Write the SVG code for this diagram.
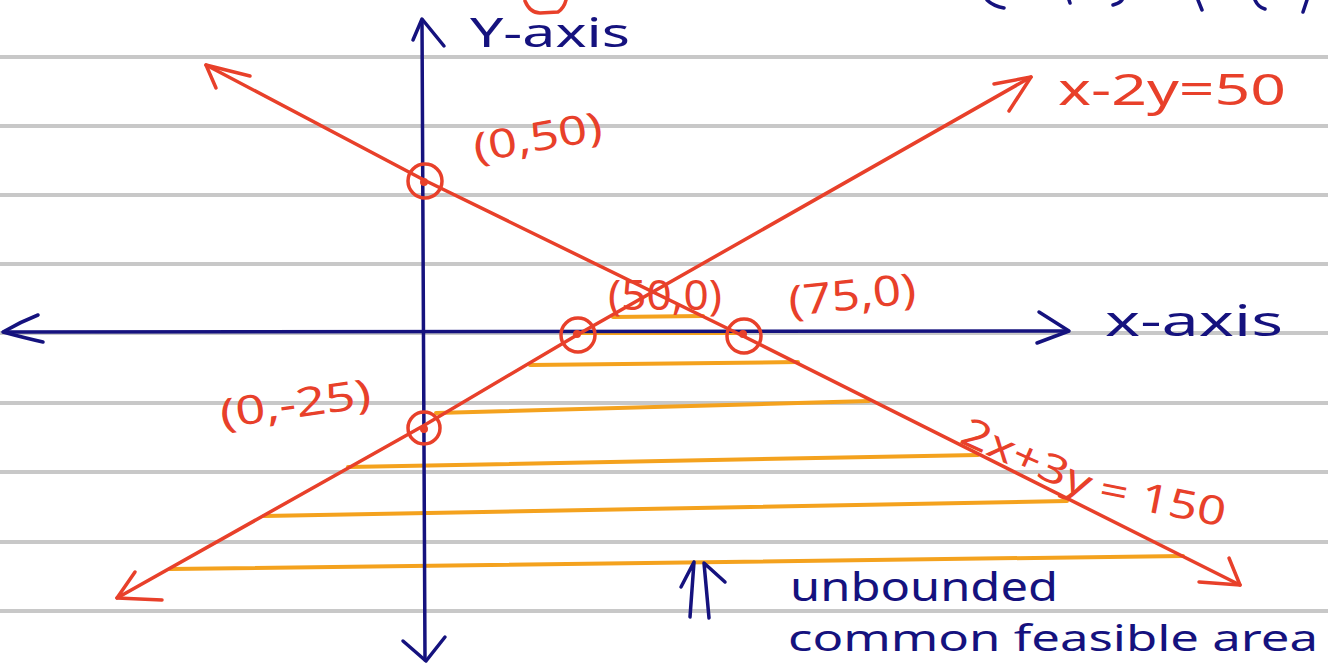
<svg xmlns="http://www.w3.org/2000/svg" width="1328" height="665" viewBox="0 0 1328 665">
<style>
.rule{stroke:#c8c8c8;stroke-width:4;fill:none}
.blue{stroke:#15127e;stroke-width:3.5;fill:none;stroke-linecap:round;stroke-linejoin:round}
.red{stroke:#e8402a;stroke-width:3.5;fill:none;stroke-linecap:round;stroke-linejoin:round}
.hatch{stroke:#f4a21e;stroke-width:4;fill:none;stroke-linecap:round}
.dot{fill:#e8402a}
.tb{fill:#15127e;font-family:"Noto Sans","DejaVu Sans",sans-serif}
.tr{fill:#e8402a;font-family:"Noto Sans","DejaVu Sans",sans-serif}
</style>
<rect width="1328" height="665" fill="#ffffff"/>
<g id="ruled-paper">
<line class="rule" x1="0" y1="57" x2="1328" y2="57"/>
<line class="rule" x1="0" y1="126" x2="1328" y2="126"/>
<line class="rule" x1="0" y1="195" x2="1328" y2="195"/>
<line class="rule" x1="0" y1="264" x2="1328" y2="264"/>
<line class="rule" x1="0" y1="333" x2="1328" y2="333"/>
<line class="rule" x1="0" y1="403" x2="1328" y2="403"/>
<line class="rule" x1="0" y1="472" x2="1328" y2="472"/>
<line class="rule" x1="0" y1="542" x2="1328" y2="542"/>
<line class="rule" x1="0" y1="611" x2="1328" y2="611"/>
</g>
<g id="top-fragments">
<path class="red" d="M525,1 Q530,13 540,13 L558,12 Q564,8 566,0"/>
<path class="blue" d="M987,0 Q993,6 1004,8"/>
<path class="blue" d="M1069,0 L1070,3"/>
<path class="blue" d="M1113,5 Q1120,3 1122,0"/>
<path class="blue" d="M1198,0 L1202,10"/>
<path class="blue" d="M1255,0 Q1258,7 1265,9"/>
<path class="blue" d="M1307,0 L1303,12"/>
</g>
<g id="hatching">
<line class="hatch" x1="613" y1="317" x2="703" y2="316"/>
<line class="hatch" x1="579" y1="333" x2="735" y2="333"/>
<line class="hatch" x1="530" y1="365" x2="798" y2="362"/>
<line class="hatch" x1="436" y1="413" x2="869" y2="401"/>
<line class="hatch" x1="348" y1="467" x2="978" y2="455"/>
<line class="hatch" x1="264" y1="516" x2="1067" y2="501"/>
<line class="hatch" x1="170" y1="569" x2="1183" y2="556"/>
</g>
<g id="x-axis">
<line class="blue" x1="4" y1="332" x2="1068" y2="331"/>
<path class="blue" d="M38,315 Q20,322 3,332 Q25,338 43,342"/>
<path class="blue" d="M1039,312 L1069,331 L1037,343"/>
<text class="tb" x="1105" y="336" font-size="42" textLength="178" lengthAdjust="spacingAndGlyphs">x-axis</text>
</g>
<g id="y-axis">
<line class="blue" x1="422" y1="20" x2="425" y2="660"/>
<path class="blue" d="M413,40 L422,19 L444,46"/>
<path class="blue" d="M403,641 L426,661 L445,637"/>
<text class="tb" x="470" y="47" font-size="40" textLength="160" lengthAdjust="spacingAndGlyphs">Y-axis</text>
</g>
<defs>
<path id="lbl150" d="M958,442 L1088,500 L1240,530"/>
</defs>
<g id="line-2x-3y-150">
<polyline class="red" points="206,65 424,180 743,336 1240,585"/>
<path class="red" d="M250,76 L206,65 L216,88"/>
<path class="red" d="M1199,582 L1240,585 L1229,558"/>
<text class="tr" font-size="40"><textPath href="#lbl150" textLength="280" lengthAdjust="spacingAndGlyphs">2x+3y = 150</textPath></text>
</g>
<g id="line-x-2y-50">
<polyline class="red" points="117,598 423,426 577,335 1031,77"/>
<path class="red" d="M994,84 L1031,77 L1009,111"/>
<path class="red" d="M135,572 L117,598 L162,600"/>
<text class="tr" x="1058" y="105" font-size="44" textLength="228" lengthAdjust="spacingAndGlyphs">x-2y=50</text>
</g>
<g id="point-0-50">
<circle class="red" cx="425" cy="181" r="17"/>
<circle class="dot" cx="424" cy="182" r="4"/>
<text class="tr" x="476" y="162" font-size="40" textLength="130" lengthAdjust="spacingAndGlyphs" transform="rotate(-10 476 162)">(0,50)</text>
</g>
<g id="point-50-0">
<circle class="red" cx="578" cy="335" r="17"/>
<circle class="dot" cx="577" cy="334" r="4"/>
<text class="tr" x="608" y="310" font-size="42" textLength="114" lengthAdjust="spacingAndGlyphs">(50,0)</text>
</g>
<g id="point-75-0">
<circle class="red" cx="744" cy="336" r="17"/>
<circle class="dot" cx="743" cy="334" r="4"/>
<text class="tr" x="790" y="316" font-size="42" textLength="128" lengthAdjust="spacingAndGlyphs" transform="rotate(-6 790 316)">(75,0)</text>
</g>
<g id="point-0-minus25">
<circle class="red" cx="424" cy="428" r="16"/>
<circle class="dot" cx="424" cy="429" r="4"/>
<text class="tr" x="222" y="428" font-size="40" textLength="152" lengthAdjust="spacingAndGlyphs" transform="rotate(-8 222 428)">(0,-25)</text>
</g>
<g id="feasible-note">
<path class="blue" d="M690,617 L694,562 M681,587 L694,562"/>
<path class="blue" d="M709,618 L704,563 L725,582"/>
<text class="tb" x="790" y="601" font-size="40" textLength="268" lengthAdjust="spacingAndGlyphs">unbounded</text>
<text class="tb" x="788" y="651" font-size="36" textLength="530" lengthAdjust="spacingAndGlyphs">common feasible area</text>
</g>
</svg>
